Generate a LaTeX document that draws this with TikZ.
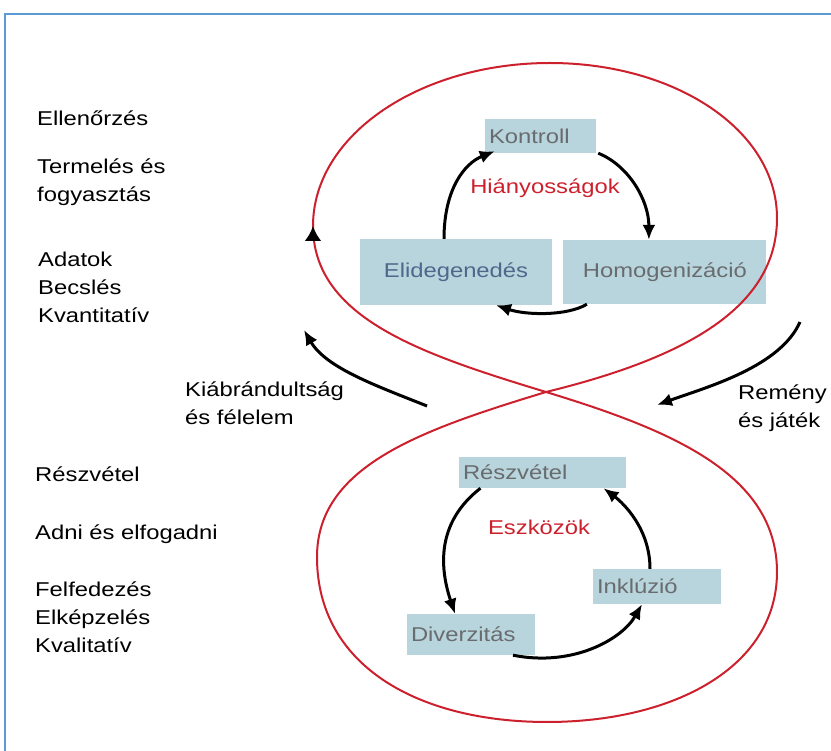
\documentclass[tikz,border=0pt]{standalone}
\usepackage{fontspec}
\setmainfont{Liberation Sans}[FakeStretch=1.19]
\usepackage{tikz}
\usetikzlibrary{arrows.meta, positioning, calc}
\definecolor{boxfill}{RGB}{184,212,220}
\definecolor{boxtext}{RGB}{105,108,110}
\definecolor{alienblue}{RGB}{78,104,140}
\definecolor{eightred}{RGB}{205,32,45}
\definecolor{frameblue}{RGB}{91,155,213}
\tikzstyle{gapbox} = [rectangle, fill=boxfill, text=boxtext, inner xsep=4pt, inner ysep=0pt, align=left]
\tikzstyle{loopname} = [text=eightred, inner sep=0pt]
\tikzstyle{sidetext} = [anchor=west, inner sep=0pt, align=left]
\tikzstyle{arrow} = [line width=3pt,->,>={Latex[length=15pt,width=13pt]}]
\tikzstyle{eight} = [draw=eightred, line width=2pt]

\begin{document}
\begin{tikzpicture}[x=1pt, y=-1pt, font=\fontsize{20}{28}\selectfont]
\useasboundingbox (0,0) rectangle (831,751);

% frame
\draw[frameblue, line width=2pt] (5,751) -- (5,14) -- (831,14);

% upper cycle
\node (kontroll) [gapbox, text width=103pt, minimum height=34pt] at (540.5,136) {Kontroll};
\node (elid) [gapbox, text width=184pt, minimum height=66pt, align=center, text=alienblue] at (456,272) {Elidegenedés};
\node (homog) [gapbox, text width=195pt, minimum height=64pt, align=center, right=11pt of elid] {Homogenizáció};
\node (hiany) [loopname] at (545,188) {Hiányosságok};

% lower cycle
\node (resz) [gapbox, text width=159pt, minimum height=31pt] at (542.5,472.5) {Részvétel};
\node (inkl) [gapbox, text width=120pt, minimum height=35pt] at (657,586.5) {Inklúzió};
\node (div) [gapbox, text width=120pt, minimum height=41pt] at (471,634.5) {Diverzitás};
\node (eszk) [loopname] at (539,527) {Eszközök};

% figure eight
\coordinate (mid) at (546,392);
\coordinate (upL) at (313,226);
\coordinate (upT) at (550,63);
\coordinate (upR) at (777,218);
\coordinate (loL) at (317,557);
\coordinate (loB) at (547,722);
\coordinate (loR) at (777,572);
\draw[eight] (mid) .. controls (421,354) and (313,318) .. (upL)
  .. controls (313,135) and (420,63) .. (upT)
  .. controls (675,63) and (777,130) .. (upR)
  .. controls (777,308) and (685,358) .. (mid)
  .. controls (421,430) and (317,466) .. (loL)
  .. controls (317,667) and (420,722) .. (loB)
  .. controls (674,722) and (777,667) .. (loR)
  .. controls (777,474) and (671,430) .. (mid);
\draw[arrow, >={Latex[length=15pt,width=17pt]}] ([yshift=-8pt]upL) -- (upL);

% side texts
\node (ell) [sidetext] at (37,118) {Ellenőrzés};
\node (term) [sidetext] at (37,182) {Termelés és\\fogyasztás};
\node (adat) [sidetext] at (38,287) {Adatok\\Becslés\\Kvantitatív};
\node (reszl) [sidetext] at (35,474) {Részvétel};
\node (adni) [sidetext] at (35,534) {Adni és elfogadni};
\node (felf) [sidetext] at (35,617) {Felfedezés\\Elképzelés\\Kvalitatív};
\node (kiab) [sidetext] at (185,403) {Kiábrándultság\\és félelem};
\node (rem) [sidetext] at (738,408) {Remény\\és játék};

% outer arrows
\coordinate (kiabS) at (427,406);
\coordinate (kiabE) at (304,330);
\coordinate (remS) at (800,322);
\coordinate (remE) at (657,405);
\draw[arrow] (kiabS) .. controls +(-50,-20) and +(22,38) .. (kiabE);
\draw[arrow] (remS) .. controls +(-20,45) and +(50,-18) .. (remE);

% arrows upper
\draw[arrow] ([xshift=-12pt]elid.north) .. controls +(0,-50) and +(-30,12) .. ([xshift=10pt,yshift=2pt]kontroll.south west);
\draw[arrow] ([xshift=2pt]kontroll.south east) .. controls +(30,12) and +(0,-40) .. ([xshift=-16pt]homog.north);
\draw[arrow] ([xshift=-78pt]homog.south) .. controls +(-20,12) and +(30,10) .. ([xshift=40pt]elid.south);

% arrows lower
\draw[arrow] ([xshift=-62pt]resz.south) .. controls +(-45,35) and +(-15,-45) .. ([xshift=-16pt]div.north);
\draw[arrow] ([xshift=42pt]div.south) .. controls +(60,12) and +(-20,35) .. ([xshift=-15pt]inkl.south);
\draw[arrow] ([xshift=-7pt]inkl.north) .. controls +(0,-40) and +(20,15) .. ([xshift=61pt]resz.south);

\end{tikzpicture}
\end{document}
